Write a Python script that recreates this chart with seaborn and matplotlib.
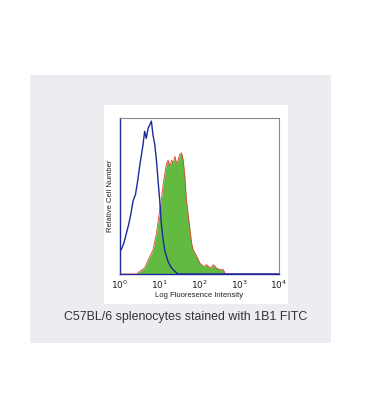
"""
Flow cytometry histogram: C57BL/6 splenocytes stained with 1B1 FITC
"""

import numpy as np
import matplotlib
matplotlib.use('Agg')
import matplotlib.pyplot as plt
from matplotlib.patches import Rectangle
import seaborn as sns
import pandas as pd

# isotype control (blue outline), x in log10 decades, y relative
iso_log = [0.0, 0.05, 0.1, 0.16, 0.22, 0.27, 0.33, 0.39, 0.44, 0.5,
           0.54, 0.58, 0.62, 0.66, 0.71, 0.75, 0.79, 0.83, 0.875, 0.92,
           0.96, 1.0, 1.04, 1.09, 1.13, 1.21, 1.29, 1.38, 1.46, 4.0]
iso_count = [0.145, 0.167, 0.2, 0.26, 0.32, 0.38, 0.47, 0.51, 0.59, 0.70,
             0.765, 0.83, 0.915, 0.87, 0.936, 0.957, 0.98, 0.89, 0.83, 0.72,
             0.59, 0.47, 0.32, 0.21, 0.145, 0.08, 0.04, 0.017, 0.0, 0.0]

# 1B1 FITC stained (green fill, red edge)
stain_log = [0.0, 0.41, 0.62, 0.75, 0.834, 0.918, 1.0, 1.04, 1.09, 1.13,
             1.17, 1.21, 1.255, 1.3, 1.34, 1.38, 1.42, 1.46, 1.5, 1.55,
             1.59, 1.63, 1.67, 1.72, 1.76, 1.8, 1.84, 1.93, 2.01, 2.1,
             2.18, 2.27, 2.35, 2.43, 2.52, 2.6, 2.65, 4.0]
stain_count = [0.0, 0.0, 0.04, 0.113, 0.156, 0.263, 0.41, 0.476, 0.583, 0.647,
               0.71, 0.73, 0.69, 0.73, 0.71, 0.754, 0.71, 0.73, 0.765, 0.776,
               0.73, 0.626, 0.476, 0.37, 0.284, 0.2, 0.156, 0.113, 0.07, 0.049,
               0.06, 0.038, 0.06, 0.038, 0.028, 0.028, 0.0, 0.0]

tick_exp = [0, 1, 2, 3, 4]

sns.set_style('white')
plt.rcParams['font.family'] = ['Liberation Sans', 'DejaVu Sans']

fig = plt.figure(figsize=(3.67, 4.09), dpi=100)
W, H = 367, 409

# background panels drawn in a full-figure axes behind the plot
bg = fig.add_axes([0, 0, 1, 1], zorder=-1)
bg.set_xlim(0, W)
bg.set_ylim(H, 0)
bg.axis('off')
bg.add_patch(Rectangle((30, 75), 301, 268, color='#eeecf1', lw=0))
bg.add_patch(Rectangle((104, 105), 184, 199, color='white', lw=0))
bg.text(186, 317, 'C57BL/6 splenocytes stained with 1B1 FITC',
        ha='center', va='center', fontsize=8.9, color='#333333')

ax = fig.add_axes([120 / W, 1 - 274 / H, (279 - 120) / W, (274 - 118) / H])
ax.set_facecolor('white')

iso = pd.DataFrame({'x': 10 ** np.array(iso_log), 'y': iso_count})
stain = pd.DataFrame({'x': 10 ** np.array(stain_log), 'y': stain_count})

ax.fill_between(stain['x'], stain['y'], 0, color='#62bb40', lw=0, zorder=2)
sns.lineplot(data=stain, x='x', y='y', ax=ax, color='#e0453a', lw=0.6, zorder=3)
sns.lineplot(data=iso, x='x', y='y', ax=ax, color='#1c2a9a', lw=1.0, zorder=4)

ax.set_xscale('log')
ax.set_xlim(1, 1e4)
ax.set_ylim(0, 1.0)
ax.set_xticks([10 ** e for e in tick_exp])
ax.set_xticklabels([f'$10^{{{e}}}$' for e in tick_exp], fontsize=6.5)
ax.minorticks_off()
ax.set_yticks([])
ax.tick_params(axis='x', length=0, pad=3, colors='#222222')

for side in ['top', 'right']:
    ax.spines[side].set_color('#888888')
    ax.spines[side].set_linewidth(0.8)
for side in ['left', 'bottom']:
    ax.spines[side].set_color('#1c2a9a')
    ax.spines[side].set_linewidth(1.0)

ax.set_xlabel('Log Fluoresence Intensity', fontsize=5.5, labelpad=1, color='#222222')
ax.set_ylabel('Relative Cell Number', fontsize=5.5, labelpad=4, color='#222222')

fig.savefig('out.png', dpi=100, facecolor='white')
